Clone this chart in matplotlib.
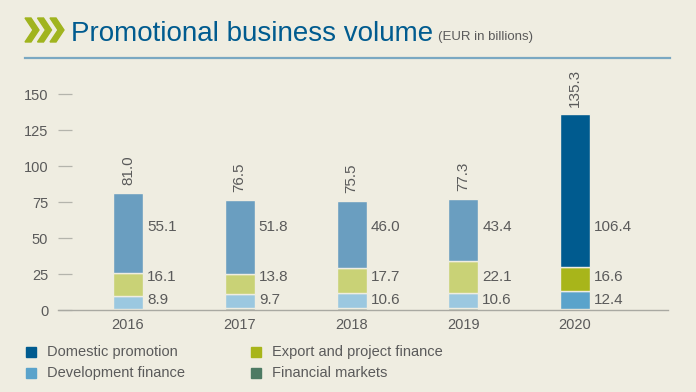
import matplotlib.pyplot as plt
from matplotlib.patches import Polygon, Rectangle
import numpy as np

years = ["2016", "2017", "2018", "2019", "2020"]
financial_markets = [0.9, 1.2, 1.2, 1.2, 0.8]
development_finance = [8.9, 9.7, 10.6, 10.6, 12.4]
export_project = [16.1, 13.8, 17.7, 22.1, 16.6]
domestic_promotion = [55.1, 51.8, 46.0, 43.4, 106.4]
totals = [81.0, 76.5, 75.5, 77.3, 135.3]
y_ticks = [0, 25, 50, 75, 100, 125, 150]

legend_labels = ["Domestic promotion", "Development finance",
                 "Export and project finance", "Financial markets"]

# full colours for the current year, faded ones for the earlier years
full = {"dom": "#005b8f", "dev": "#5aa3cb", "exp": "#a8b51a", "fin": "#4d7a63"}
faded = {"dom": "#6a9ec0", "dev": "#9bc8e0", "exp": "#c9d276", "fin": "#9aab9e"}

BG = "#efede1"
TXT = "#5a5a5a"
FONT = ["Liberation Sans Narrow", "Liberation Sans", "DejaVu Sans"]
plt.rcParams["font.family"] = FONT

W, H = 696, 392
fig = plt.figure(figsize=(W / 100, H / 100), dpi=100, facecolor=BG)


def fx(px):
    return px / W


def fy(py):
    return 1 - py / H


# axes placed in pixels: x 58..668, y baseline at 310, 1.44 px per unit
ax_left, ax_right = 58, 668
y0_px, px_per_unit = 310, 1.44
ymax = 160
ax = fig.add_axes([fx(ax_left), fy(y0_px), fx(ax_right - ax_left),
                   ymax * px_per_unit / H])
ax.set_facecolor(BG)

centers_px = [128, 240, 352, 463, 575]
spacing = (centers_px[-1] - centers_px[0]) / 4
x = np.arange(len(years))
ax.set_xlim((ax_left - centers_px[0]) / spacing, (ax_right - centers_px[0]) / spacing)
ax.set_ylim(0, ymax)
width = 30 / spacing

series = [("fin", financial_markets), ("dev", development_finance),
          ("exp", export_project), ("dom", domestic_promotion)]
bottom = np.zeros(len(years))
for key, vals in series:
    cols = [faded[key]] * (len(years) - 1) + [full[key]]
    ax.bar(x, vals, width, bottom=bottom, color=cols, edgecolor=BG,
           linewidth=1.0, zorder=2)
    bottom += np.array(vals)

# value labels right of the bars, on fixed rows
label_rows = [(development_finance, 6.9), (export_project, 22.9),
              (domestic_promotion, 57.6)]
for vals, ypos in label_rows:
    for i, v in enumerate(vals):
        ax.text(i + width / 2 + 4 / spacing, ypos, f"{v:.1f}", ha="left",
                va="center", fontsize=11, color=TXT)

for i, t in enumerate(totals):
    ax.text(i, t + 5.5, f"{t:.1f}", rotation=90, ha="center", va="bottom",
            fontsize=11, color=TXT, clip_on=False)

for s in ["top", "right", "left"]:
    ax.spines[s].set_visible(False)
ax.spines["bottom"].set_color("#a9a9a2")
ax.spines["bottom"].set_linewidth(1.0)
ax.set_yticks(y_ticks)
ax.set_yticklabels([str(v) for v in y_ticks])
ax.tick_params(axis="y", direction="in", length=10, width=0.9, color="#b4b4ac",
               pad=7, labelsize=10.5, labelcolor=TXT)
ax.set_xticks(x)
ax.set_xticklabels(years)
ax.tick_params(axis="x", length=0, pad=6, labelsize=10.5, labelcolor=TXT)

# title block
chev_col = "#a0b41e"
for k in range(3):
    x0 = 25 + k * 12.5
    pts = [(x0, 18), (x0 + 6, 18), (x0 + 14, 30), (x0 + 6, 42), (x0, 42), (x0 + 8, 30)]
    fig.patches.append(Polygon([(fx(a), fy(b)) for a, b in pts], closed=True,
                               transform=fig.transFigure, color=chev_col))
t = fig.text(fx(71), fy(41), "Promotional business volume", fontsize=20,
             color="#005b8f", ha="left", va="baseline")
fig.canvas.draw()
bb = t.get_window_extent()
fig.text(bb.x1 / W + fx(5), fy(40), "(EUR in billions)", fontsize=9.5,
         color=TXT, ha="left", va="baseline")
fig.add_artist(plt.Line2D([fx(25), fx(670)], [fy(58), fy(58)], color="#7aa8c2",
                          linewidth=1.6, transform=fig.transFigure))

# legend
leg = [(26, 352, full["dom"], legend_labels[0]),
       (26, 373, full["dev"], legend_labels[1]),
       (251, 352, full["exp"], legend_labels[2]),
       (251, 373, full["fin"], legend_labels[3])]
for lx, ly, c, lab in leg:
    fig.patches.append(Rectangle((fx(lx), fy(ly + 5)), fx(10), 10 / H,
                                 transform=fig.transFigure, color=c))
    fig.text(fx(lx + 21), fy(ly), lab, fontsize=10.5, color=TXT, ha="left",
             va="center")

fig.savefig("out.png", dpi=100, facecolor=BG)
